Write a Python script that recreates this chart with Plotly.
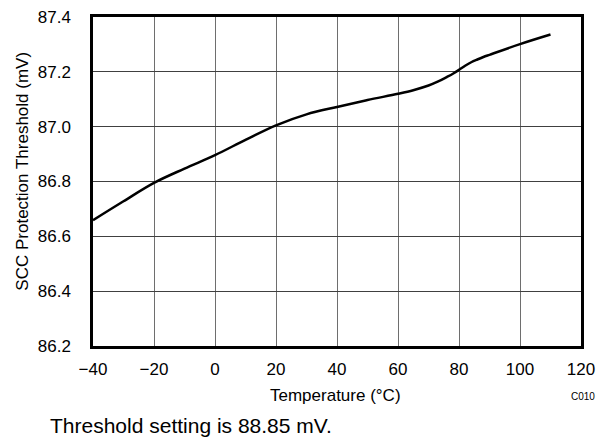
import plotly.graph_objects as go

temperature = [-40, -30, -20, -10, 0, 10, 20, 30, 40, 50, 60, 65, 70, 73, 76, 78, 80, 82, 84, 86, 88, 90, 100, 110]
threshold_mv = [86.659, 86.728, 86.795, 86.847, 86.896, 86.952, 87.005, 87.045, 87.072, 87.097, 87.12, 87.133,
                87.150, 87.164, 87.181, 87.193, 87.207, 87.222, 87.235, 87.245, 87.254, 87.262, 87.301, 87.336]
x_ticks = [-40, -20, 0, 20, 40, 60, 80, 100, 120]
x_tick_labels = ["\u221240", "\u221220", "0", "20", "40", "60", "80", "100", "120"]
y_ticks = [86.2, 86.4, 86.6, 86.8, 87.0, 87.2, 87.4]

FONT = "Liberation Sans, Arial, sans-serif"

fig = go.Figure()
fig.add_trace(go.Scatter(
    x=temperature, y=threshold_mv, mode="lines",
    line=dict(color="black", width=2.5, shape="spline", smoothing=1.0),
    showlegend=False, hoverinfo="skip",
))

fig.update_layout(
    width=599, height=435,
    margin=dict(l=85, r=26, t=9, b=97),
    paper_bgcolor="white", plot_bgcolor="white",
    font=dict(family=FONT, color="black", size=17),
    xaxis=dict(
        range=[-40, 120], tickvals=x_ticks, ticktext=x_tick_labels,
        showgrid=True, gridcolor="#6e6e6e", gridwidth=1,
        showline=True, linecolor="black", linewidth=2.5, mirror=True,
        ticks="outside", ticklen=6, tickcolor="rgba(0,0,0,0)",
        tickfont=dict(size=17, family=FONT), ticklabeloverflow="allow",
        automargin=False, zeroline=False,
    ),
    yaxis=dict(
        range=[86.2, 87.4], tickvals=y_ticks, tickformat=".1f",
        showgrid=True, gridcolor="#404040", gridwidth=1,
        showline=True, linecolor="black", linewidth=2.5, mirror=True,
        ticks="outside", ticklen=16, tickcolor="rgba(0,0,0,0)",
        tickfont=dict(size=17, family=FONT), ticklabeloverflow="allow",
        automargin=False, zeroline=False,
    ),
    annotations=[
        dict(text="Temperature (\u00b0C)", xref="paper", yref="paper", x=0.496, y=-0.149,
             xanchor="center", yanchor="middle", showarrow=False, font=dict(size=17, family=FONT)),
        dict(text="SCC Protection Threshold (mV)", xref="paper", yref="paper", x=-0.1434, y=0.53,
             xanchor="center", yanchor="middle", textangle=-90, showarrow=False, font=dict(size=17, family=FONT)),
        dict(text="C010", xref="paper", yref="paper", x=1.004, y=-0.153, xanchor="center", yanchor="middle",
             showarrow=False, font=dict(size=10, family=FONT)),
        dict(text="Threshold setting is 88.85 mV.", xref="paper", yref="paper", x=-0.0922, y=-0.241,
             xanchor="left", yanchor="middle", showarrow=False, font=dict(size=21, family=FONT)),
    ],
)

fig.write_html("out.html")
